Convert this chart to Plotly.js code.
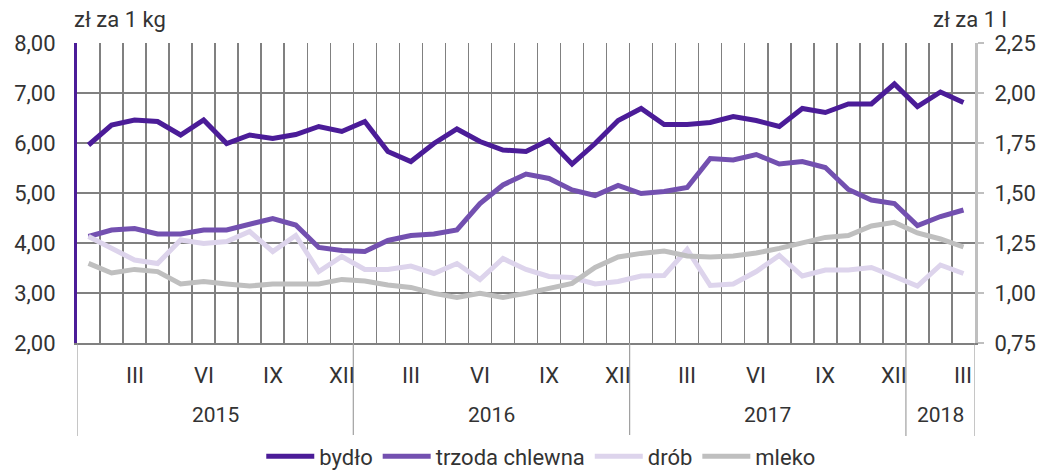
<!DOCTYPE html>
<html>
<head>
<meta charset="utf-8">
<script src="https://cdn.plot.ly/plotly-3.0.1.min.js"></script>
<style>html,body{margin:0;padding:0;background:#fff}#chart{width:1048px;height:475px}</style>
</head>
<body>
<div id="chart"></div>
<script>
// Months Jan 2015 .. Mar 2018 (39 months), index 0..38
const months = Array.from({length: 39}, (_, i) => i);
const monthLabels = ['III','VI','IX','XII','III','VI','IX','XII','III','VI','IX','XII','III'];
const monthLabelPos = [2,5,8,11,14,17,20,23,26,29,32,35,38];
const years = ['2015','2016','2017','2018'];
const yearStart = [0,12,24,36];
const yearEnd = [11,23,35,38];

const bydlo = [5.96,6.36,6.46,6.43,6.16,6.46,5.99,6.16,6.09,6.17,6.33,6.23,
               6.43,5.83,5.63,5.99,6.28,6.03,5.86,5.83,6.06,5.58,5.99,6.45,
               6.69,6.37,6.37,6.41,6.53,6.45,6.33,6.69,6.61,6.78,6.78,7.18,
               6.73,7.02,6.81];
const trzoda = [4.13,4.26,4.29,4.18,4.18,4.26,4.26,4.38,4.49,4.36,3.91,3.85,
                3.83,4.05,4.15,4.18,4.26,4.79,5.16,5.38,5.29,5.06,4.95,5.15,
                4.99,5.03,5.11,5.69,5.66,5.77,5.58,5.63,5.51,5.07,4.86,4.79,
                4.35,4.53,4.66];
const drob = [4.13,3.89,3.66,3.59,4.06,3.99,4.03,4.23,3.83,4.15,3.43,3.73,
              3.47,3.47,3.54,3.39,3.59,3.27,3.69,3.47,3.33,3.31,3.18,3.23,
              3.34,3.35,3.87,3.15,3.18,3.43,3.75,3.34,3.46,3.46,3.51,3.33,
              3.14,3.56,3.39];
const mleko = [1.148,1.100,1.118,1.107,1.045,1.057,1.045,1.035,1.045,1.045,1.045,1.068,
               1.060,1.040,1.028,0.998,0.978,0.998,0.978,0.998,1.023,1.048,1.128,1.180,
               1.198,1.210,1.185,1.180,1.185,1.200,1.223,1.253,1.278,1.287,1.335,1.353,
               1.300,1.270,1.230];

const FONT = 'Roboto, "Noto Sans", sans-serif';
const TXT = '#333333';

const traces = [
  {name:'bydło', x:months, y:bydlo, type:'scatter', mode:'lines', line:{color:'#4B1C98', width:5}},
  {name:'trzoda chlewna', x:months, y:trzoda, type:'scatter', mode:'lines', line:{color:'#7350B0', width:5}},
  {name:'drób', x:months, y:drob, type:'scatter', mode:'lines', line:{color:'#DDD4EC', width:5}},
  {name:'mleko', x:months, y:mleko, type:'scatter', mode:'lines', yaxis:'y2', line:{color:'#BFBFBF', width:5}}
];

const boundaries = Array.from({length: 40}, (_, i) => i - 0.5);

const annotations = [];
monthLabels.forEach((t, i) => annotations.push({
  text:t, x:monthLabelPos[i], xref:'x', y:-0.107, yref:'paper',
  showarrow:false, xanchor:'center', yanchor:'middle', font:{family:FONT, size:22, color:TXT}
}));
years.forEach((t, i) => annotations.push({
  text:t, x:(yearStart[i] + yearEnd[i]) / 2, xref:'x', y:-0.24, yref:'paper',
  showarrow:false, xanchor:'center', yanchor:'middle', font:{family:FONT, size:21, color:TXT}
}));
annotations.push({text:'zł za 1 kg', xref:'paper', yref:'paper', x:-0.006, y:1.077,
  xanchor:'left', yanchor:'middle', showarrow:false, font:{family:FONT, size:22, color:TXT}});
annotations.push({text:'zł za 1 l', xref:'paper', yref:'paper', x:1.038, y:1.077,
  xanchor:'right', yanchor:'middle', showarrow:false, font:{family:FONT, size:22, color:TXT}});

const shapes = [];
yearStart.forEach(s => shapes.push({type:'line', xref:'x', yref:'paper', x0:s-0.5, x1:s-0.5, y0:0, y1:-0.31,
  line:{color:'#A0A0A0', width:1.2}}));
shapes.push({type:'line', xref:'x', yref:'paper', x0:38.5, x1:38.5, y0:0, y1:-0.31, line:{color:'#A0A0A0', width:1.2}});

const layout = {
  width:1048, height:475,
  margin:{l:77, r:73, t:43, b:132, autoexpand:false},
  paper_bgcolor:'#fff', plot_bgcolor:'#fff',
  separators:', ',
  font:{family:FONT, size:20, color:TXT},
  showlegend:true,
  legend:{orientation:'h', x:0.517, xanchor:'center', y:-0.378, yanchor:'middle',
          font:{family:FONT, size:22, color:TXT}, itemwidth:48, traceorder:'normal'},
  xaxis:{range:[-0.5, 38.5], tickmode:'array', tickvals:boundaries, ticktext:boundaries.map(()=>''),
         showgrid:true, gridcolor:'#808080', gridwidth:1.5, zeroline:false,
         showline:true, linecolor:'#808080', linewidth:2, ticks:'', fixedrange:true},
  yaxis:{range:[2, 8], dtick:1, tick0:2, tickformat:'.2f', showgrid:true, gridcolor:'#808080', gridwidth:1.5,
         zeroline:false, showline:true, linecolor:'#4B1C98', linewidth:3, ticks:'',
         tickfont:{family:FONT, size:22, color:TXT}, ticklabelstandoff:14},
  yaxis2:{range:[0.75, 2.25], dtick:0.25, tick0:0.75, tickformat:'.2f', overlaying:'y', side:'right',
          showgrid:false, zeroline:false, showline:true, linecolor:'#BFBFBF', linewidth:3,
          ticks:'outside', ticklen:6, tickwidth:2, tickcolor:'#BFBFBF',
          tickfont:{family:FONT, size:22, color:TXT}, ticklabelstandoff:6},
  annotations:annotations,
  shapes:shapes
};

Plotly.newPlot('chart', traces, layout, {staticPlot:true});
</script>
</body>
</html>
